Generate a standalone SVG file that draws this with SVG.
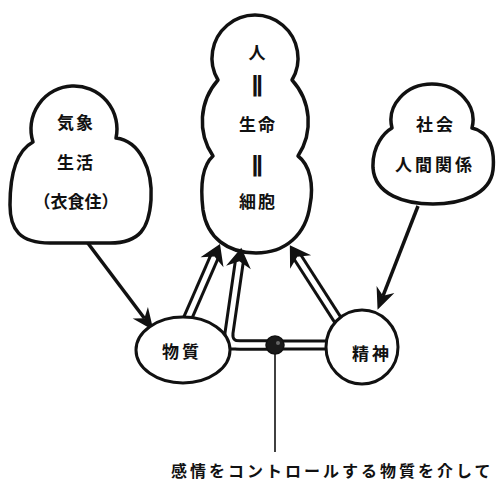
<svg xmlns="http://www.w3.org/2000/svg" width="496" height="482" viewBox="0 0 496 482">
<defs>
<style>
.blob{fill:#fff;stroke:#111;stroke-width:3.5;stroke-linejoin:round}
.ell{fill:#fff;stroke:#111;stroke-width:3}
.t{font-family:"Noto Sans CJK JP","Noto Sans CJK SC",sans-serif;font-weight:700;font-size:17px;fill:#111;text-anchor:middle}
.bar{font-family:"DejaVu Sans",sans-serif;font-weight:700;font-size:22px;fill:#111;text-anchor:middle}
.dk{fill:none;stroke:#111;stroke-width:11;stroke-linejoin:round}
.wh{fill:none;stroke:#fff;stroke-width:5;stroke-linejoin:round}
.sg{fill:none;stroke:#111;stroke-width:3.5}
</style>
<marker id="dh" markerUnits="userSpaceOnUse" markerWidth="30" markerHeight="30" refX="0" refY="0" viewBox="-10 -12 22 24" orient="auto" overflow="visible">
<path d="M9 0 L-7 -10 L-2 0 L-7 10 Z" fill="#111"/>
</marker>
<marker id="sh" markerUnits="userSpaceOnUse" markerWidth="30" markerHeight="30" refX="0" refY="0" viewBox="-8 -10 22 20" orient="auto" overflow="visible">
<path d="M11 0 L-5 -7 L0 0 L-5 7 Z" fill="#111"/>
</marker>
</defs>
<rect width="496" height="482" fill="#fff"/>

<g id="node-center">
<path class="blob" d="M218 80 A43 43 0 1 1 292 80 A62 62 0 0 1 298 156 C310 165 314 185 310 205 C306 235 285 253 256 253 C228 253 207 238 203 210 C200 185 203 165 213 156 A62 62 0 0 1 218 80 Z"/>
<text class="t" x="257" y="59">人</text>
<g transform="translate(257,84) scale(1.3,1)"><text class="bar" x="0" y="7">‖</text></g>
<text class="t" x="258" y="131" letter-spacing="2">生命</text>
<g transform="translate(257,164) scale(1.3,1)"><text class="bar" x="0" y="7">‖</text></g>
<text class="t" x="258" y="208" letter-spacing="2">細胞</text>
</g>

<g id="connectors">
<path class="sg" d="M87 242 L144.4 318.2" marker-end="url(#sh)"/>
<path class="sg" d="M418 206 L383 295.8" marker-end="url(#sh)"/>
<path class="dk" d="M186 322 L215.5 254.3"/>
<path class="dk" d="M276 345 L240 345 Q228 345 229 333 L239.7 258.9"/>
<path class="dk" d="M276 345 L212 345"/>
<path class="dk" d="M276 345 L336 345"/>
<path class="dk" d="M343 328 L295.9 254.6"/>
<path class="wh" d="M186 322 L215.5 254.3" marker-end="url(#dh)"/>
<path class="wh" d="M276 345 L240 345 Q228 345 229 333 L239.7 258.9" marker-end="url(#dh)"/>
<path class="wh" d="M276 345 L212 345"/>
<path class="wh" d="M276 345 L336 345"/>
<path class="wh" d="M343 328 L295.9 254.6" marker-end="url(#dh)"/>
<path d="M275 354 L275 452" stroke="#111" stroke-width="1.6" fill="none"/>
</g>

<g id="node-left">
<path class="blob" d="M33 142 A43 43 0 1 1 116 138 C140 141 153 170 151 200 C149 228 140 243 110 243 L50 243 C20 243 10 230 10 205 C10 172 18 150 33 142 Z"/>
<text class="t" x="76" y="129" letter-spacing="2">気象</text>
<text class="t" x="76" y="169" letter-spacing="2">生活</text>
<text class="t" x="76" y="208">（衣食住）</text>
</g>

<g id="node-right">
<path class="blob" d="M392 128 A41 36 0 1 1 472 128 C490 132 495 150 493 170 C490 195 460 204 433 204 C405 204 375 195 373 168 C372 145 385 132 392 128 Z"/>
<text class="t" x="436" y="131" letter-spacing="3">社会</text>
<text class="t" x="435" y="171" letter-spacing="3">人間関係</text>
</g>

<g id="node-busshitsu">
<ellipse class="ell" cx="183" cy="350" rx="47" ry="33"/>
<text class="t" x="182" y="358" letter-spacing="3">物質</text>
</g>

<g id="node-seishin">
<ellipse class="ell" cx="362" cy="347" rx="36" ry="37"/>
<text class="t" x="372" y="360" letter-spacing="3">精神</text>
</g>

<g id="junction">
<circle cx="275" cy="345" r="9" fill="#1a1a1a" stroke="#111" stroke-width="1.5"/>
<circle cx="278" cy="343" r="2" fill="#666"/>
</g>

<g id="caption">
<text x="171" y="477" font-family="'Noto Sans CJK JP','Noto Sans CJK SC',sans-serif" font-weight="700" font-size="16" letter-spacing="3" fill="#111">感情をコントロールする物質を介して</text>
</g>
</svg>
